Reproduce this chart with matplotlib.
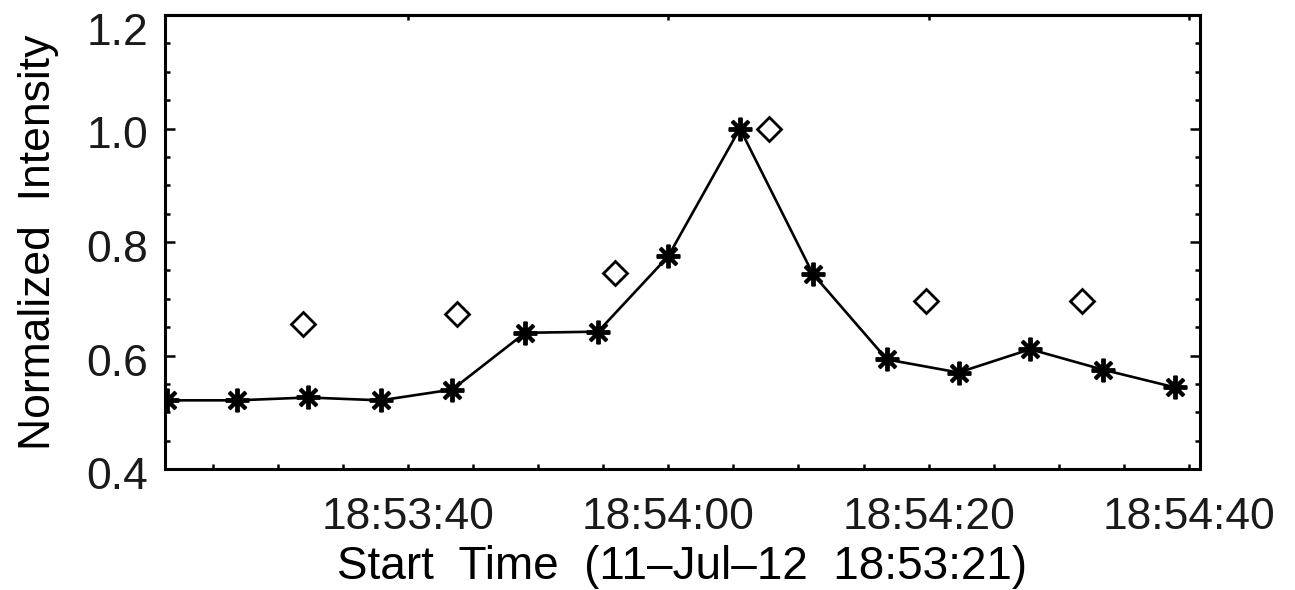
import matplotlib
matplotlib.use("Agg")
import matplotlib.pyplot as plt
import matplotlib.transforms as mtransforms
import numpy as np

plt.rcParams['font.family'] = ['Liberation Sans', 'DejaVu Sans']
plt.rcParams['text.color'] = '#1a1a1a'

# Seconds after the start time 18:53:21
line_times = [0.5, 5.9, 11.3, 16.9, 22.4, 28.0, 33.6, 39.0, 44.5, 50.1, 55.8, 61.3, 66.8, 72.4, 77.9]
line_values = [0.521, 0.521, 0.526, 0.521, 0.540, 0.640, 0.642, 0.775, 1.0, 0.744, 0.593, 0.570, 0.611, 0.575, 0.544]

diamond_times = [10.9, 22.8, 34.9, 46.7, 58.8, 70.8]
diamond_values = [0.656, 0.674, 0.746, 1.0, 0.696, 0.696]

x_tick_sec = [19, 39, 59, 79]
x_tick_labels = ["18:53:40", "18:54:00", "18:54:20", "18:54:40"]
y_ticks = [0.4, 0.6, 0.8, 1.0, 1.2]
y_tick_labels = ["0.4", "0.6", "0.8", "1.0", "1.2"]

fig = plt.figure(figsize=(12.95, 5.90), dpi=100)
W, H = 1295, 590
ax = fig.add_axes([165 / W, 1 - 469 / H, (1200 - 165) / W, (469 - 15) / H])

# Asterisk symbols joined by a line, with a dense core
ax.plot(line_times, line_values, color='black', lw=1.9,
        marker=(8, 2, 0), markersize=17, markeredgewidth=2.8,
        markeredgecolor='black', zorder=3)
ax.plot(line_times, line_values, linestyle='none', marker='s',
        markersize=7, color='black', zorder=3)
# Open diamonds
ax.plot(diamond_times, diamond_values, linestyle='none', marker='D',
        markersize=12, markerfacecolor='white', markeredgecolor='black',
        markeredgewidth=2.0, zorder=4)

ax.set_xlim(0.33, 79.85)
ax.set_ylim(0.4, 1.2)

ax.set_xticks(x_tick_sec)
ax.set_xticklabels(x_tick_labels)
ax.set_xticks(np.arange(4, 80, 5), minor=True)
ax.set_yticks(y_ticks)
ax.set_yticklabels(y_tick_labels)
ax.set_yticks(np.arange(0.45, 1.2, 0.05), minor=True)

for s in ax.spines.values():
    s.set_linewidth(2.2)

ax.tick_params(axis='x', which='both', direction='in', length=3.8, width=1.8,
               top=False, bottom=True, labelsize=32, pad=20,
               labelcolor='#1a1a1a')
ax.tick_params(axis='y', which='major', direction='in', length=7.5, width=1.8,
               left=True, right=True, labelsize=32, pad=12,
               labelcolor='#1a1a1a')
ax.tick_params(axis='y', which='minor', direction='in', length=3.8, width=1.8,
               left=True, right=True)

top = ax.secondary_xaxis('top')
top.set_xticks(x_tick_sec)
top.set_xticklabels([])
top.tick_params(direction='in', length=3.8, width=1.8)
top.spines['top'].set_linewidth(2.2)

# Y labels sit a little below their ticks; the topmost one further down
ylabels = ax.get_yticklabels()
for i, lbl in enumerate(ylabels):
    dy = -0.14 if i == len(ylabels) - 1 else -0.04
    lbl.set_transform(lbl.get_transform() +
                      mtransforms.ScaledTranslation(0, dy, fig.dpi_scale_trans))

ax.set_xlabel("Start  Time  (11\u2013Jul\u201312  18:53:21)", fontsize=33, labelpad=5)
ax.set_ylabel("Normalized  Intensity", fontsize=32, labelpad=20)

fig.savefig("out.png", dpi=100, facecolor='white')
